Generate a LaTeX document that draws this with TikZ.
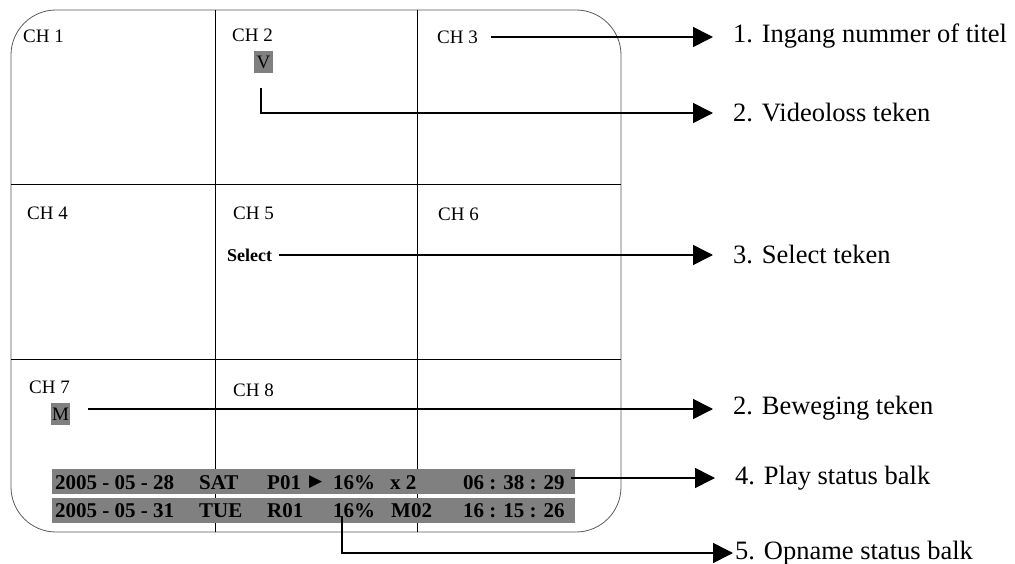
\documentclass[tikz,border=0pt]{standalone}
\usepackage{fontspec}
\setmainfont{Liberation Serif}
\newfontfamily\symfont{DejaVu Sans}
\usetikzlibrary{arrows.meta,calc,positioning}

\begin{document}
\begin{tikzpicture}[x=1pt,y=-1pt,
    ch/.style={inner sep=0pt,anchor=west,font=\fontsize{19}{19}\selectfont},
    tag/.style={fill=black!50,inner sep=0pt,minimum width=19pt,minimum height=22pt,font=\fontsize{19}{19}\selectfont},
    bar/.style={fill=black!50,inner sep=0pt,minimum width=523pt,minimum height=25pt},
    st/.style={inner sep=0pt,anchor=west,font=\bfseries\fontsize{21}{21}\selectfont},
    lab/.style={inner sep=0pt,anchor=west,font=\fontsize{26.5}{28}\selectfont},
    conn/.style={line width=1.6pt,shorten >=20pt,-{Triangle[length=20pt,width=20pt]}}]
  \useasboundingbox (0,0) rectangle (1015,564);
  % screen and split lines
  \draw[black!65,line width=0.8pt,rounded corners=45pt] (11,10) rectangle (621,532);
  \draw[line width=0.7pt] (215,10) -- (215,532) (417,10) -- (417,532)
    (11,184) -- (621,184) (11,359) -- (621,359);
  \foreach \n/\xx/\yy in {1/23/36,2/232/35,3/437/37,4/27/213,5/233/213,6/438/214,7/29/387,8/233/390}
    \node[ch] (ch\n) at (\xx,\yy) {CH \n};
  \node[tag] (vl) at (263.5,62) {V};
  \node[tag] (mo) at (60.5,414) {M};
  \node[ch,font=\bfseries\fontsize{18}{18}\selectfont] (sel) at (227,255) {Select};
  % status rows
  \node[bar] (bar1) at (313.5,481.5) {};
  \node[bar] (bar2) at (313.5,510.5) {};
  \foreach \xx/\t in {55/2005 - 05 - 28,199/SAT,267/P01,333/16\%,390/x 2,463/06 : 38 : 29}
    \node[st] (p\xx) at (\xx,483) {\t};
  \node[st,font=\symfont\fontsize{17}{17}\selectfont] (pl) at (309,482) {▶};
  \foreach \xx/\t in {55/2005 - 05 - 31,199/TUE,267/R01,333/16\%,391/M02,463/16 : 15 : 26}
    \node[st] (r\xx) at (\xx,511) {\t};
  % legend
  \node[lab] (l1) at (733,36) {1. Ingang nummer of titel};
  \node[lab] (l2) at (733,113) {2. Videoloss teken};
  \node[lab] (l3) at (733,254) {3. Select teken};
  \node[lab] (l4) at (733,408) {2. Beweging teken};
  \node[lab] (lp) at (735,478) {4. Play status balk};
  \node[lab] (l5) at (735,553) {5. Opname status balk};
  \coordinate (vl0) at (261,88);
  \coordinate (mo0) at (88,409);
  \draw[conn] ([xshift=13pt]ch3.east) -- (ch3.east -| l1.west);
  \draw[conn] (vl0) |- (l2.west);
  \draw[conn] ([xshift=7pt]sel.east) -- (sel.east -| l3.west);
  \draw[conn] (mo0) -- (mo0 -| l4.west);
  \draw[conn] ([shift={(6,-5)}]p463.east) -- ([shift={(0,-5)}]p463.east -| lp.west);
  \draw[conn,shorten >=2pt] ([shift={(9,5)}]r333.west) |- (l5.west);
\end{tikzpicture}
\end{document}
